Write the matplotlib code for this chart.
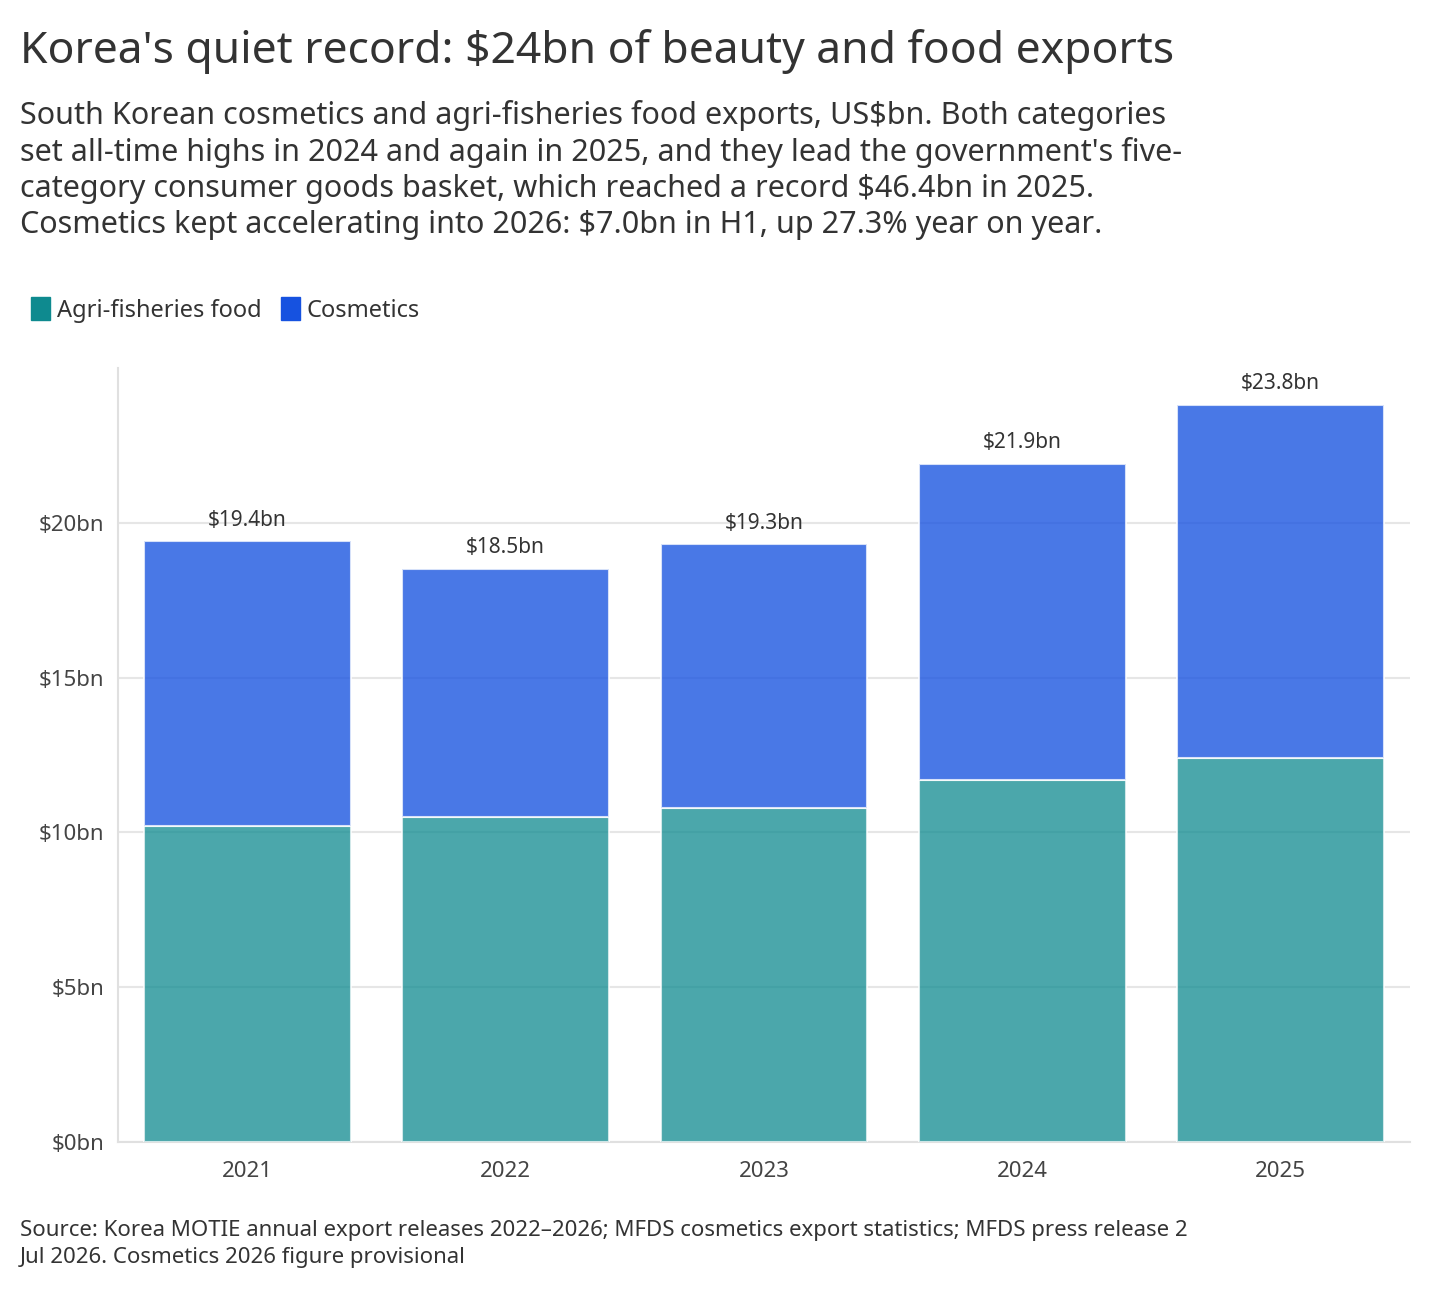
import matplotlib.pyplot as plt
import matplotlib.patches as mpatches
import numpy as np

plt.rcParams["font.family"] = ["Noto Sans", "DejaVu Sans"]

years = ["2021", "2022", "2023", "2024", "2025"]
food = [10.2, 10.5, 10.8, 11.7, 12.4]
totals = [19.4, 18.5, 19.3, 21.9, 23.8]
cosmetics = [t - f for t, f in zip(totals, food)]

teal = "#0e8a8f"
blue = "#1652e0"

fig = plt.figure(figsize=(14.56, 13.03), dpi=100)
ax = fig.add_axes([118 / 1456, 1 - 1142 / 1303, 1292 / 1456, 774 / 1303])

x = np.arange(len(years))
ax.bar(x, food, 0.8, color=teal, alpha=0.75, edgecolor="white", linewidth=1.5, zorder=3)
ax.bar(x, cosmetics, 0.8, bottom=food, color=blue, alpha=0.78, edgecolor="white", linewidth=1.5, zorder=3)
for xi, t in zip(x, totals):
    ax.text(xi, t + 0.35, f"${t:.1f}bn", ha="center", va="bottom", fontsize=15,
            fontweight="bold", color="#333333")

ax.set_xlim(-0.5, 4.5)
ax.set_ylim(0, 25)
ax.set_yticks([0, 5, 10, 15, 20])
ax.set_yticklabels([f"${v}bn" for v in [0, 5, 10, 15, 20]])
ax.set_xticks(x, years)
ax.tick_params(axis="both", labelsize=16, colors="#444444", length=0)
ax.tick_params(axis="x", pad=14)
ax.tick_params(axis="y", pad=10)
ax.grid(axis="y", color="#e6e6e6", linewidth=1.5, zorder=0)
for s in ["top", "right"]:
    ax.spines[s].set_visible(False)
for s in ["left", "bottom"]:
    ax.spines[s].set_color("#e0e0e0")
    ax.spines[s].set_linewidth(1.5)

fig.text(20 / 1456, 1 - 52 / 1303, "Korea's quiet record: $24bn of beauty and food exports",
         fontsize=32, fontweight="bold", color="#333333", va="center")
fig.text(20 / 1456, 1 - 100 / 1303,
         "South Korean cosmetics and agri-fisheries food exports, US$bn. Both categories\n"
         "set all-time highs in 2024 and again in 2025, and they lead the government's five-\n"
         "category consumer goods basket, which reached a record $46.4bn in 2025.\n"
         "Cosmetics kept accelerating into 2026: $7.0bn in H1, up 27.3% year on year.",
         fontsize=22, color="#333333", va="top", linespacing=1.25)

handles = [mpatches.Patch(color=teal, label="Agri-fisheries food"),
           mpatches.Patch(color=blue, label="Cosmetics")]
fig.legend(handles=handles, loc="center left", bbox_to_anchor=(10 / 1456, 1 - 310 / 1303),
           ncol=2, frameon=False, fontsize=17, handlelength=0.8, handleheight=1.1,
           handletextpad=0.3, columnspacing=0.8, labelcolor="#333333")

fig.text(20 / 1456, 1 - 1220 / 1303,
         "Source: Korea MOTIE annual export releases 2022\u20132026; MFDS cosmetics export statistics; MFDS press release 2\n"
         "Jul 2026. Cosmetics 2026 figure provisional",
         fontsize=16, color="#333333", va="top", linespacing=1.4)

fig.savefig("out.png", dpi=100, facecolor="white")
